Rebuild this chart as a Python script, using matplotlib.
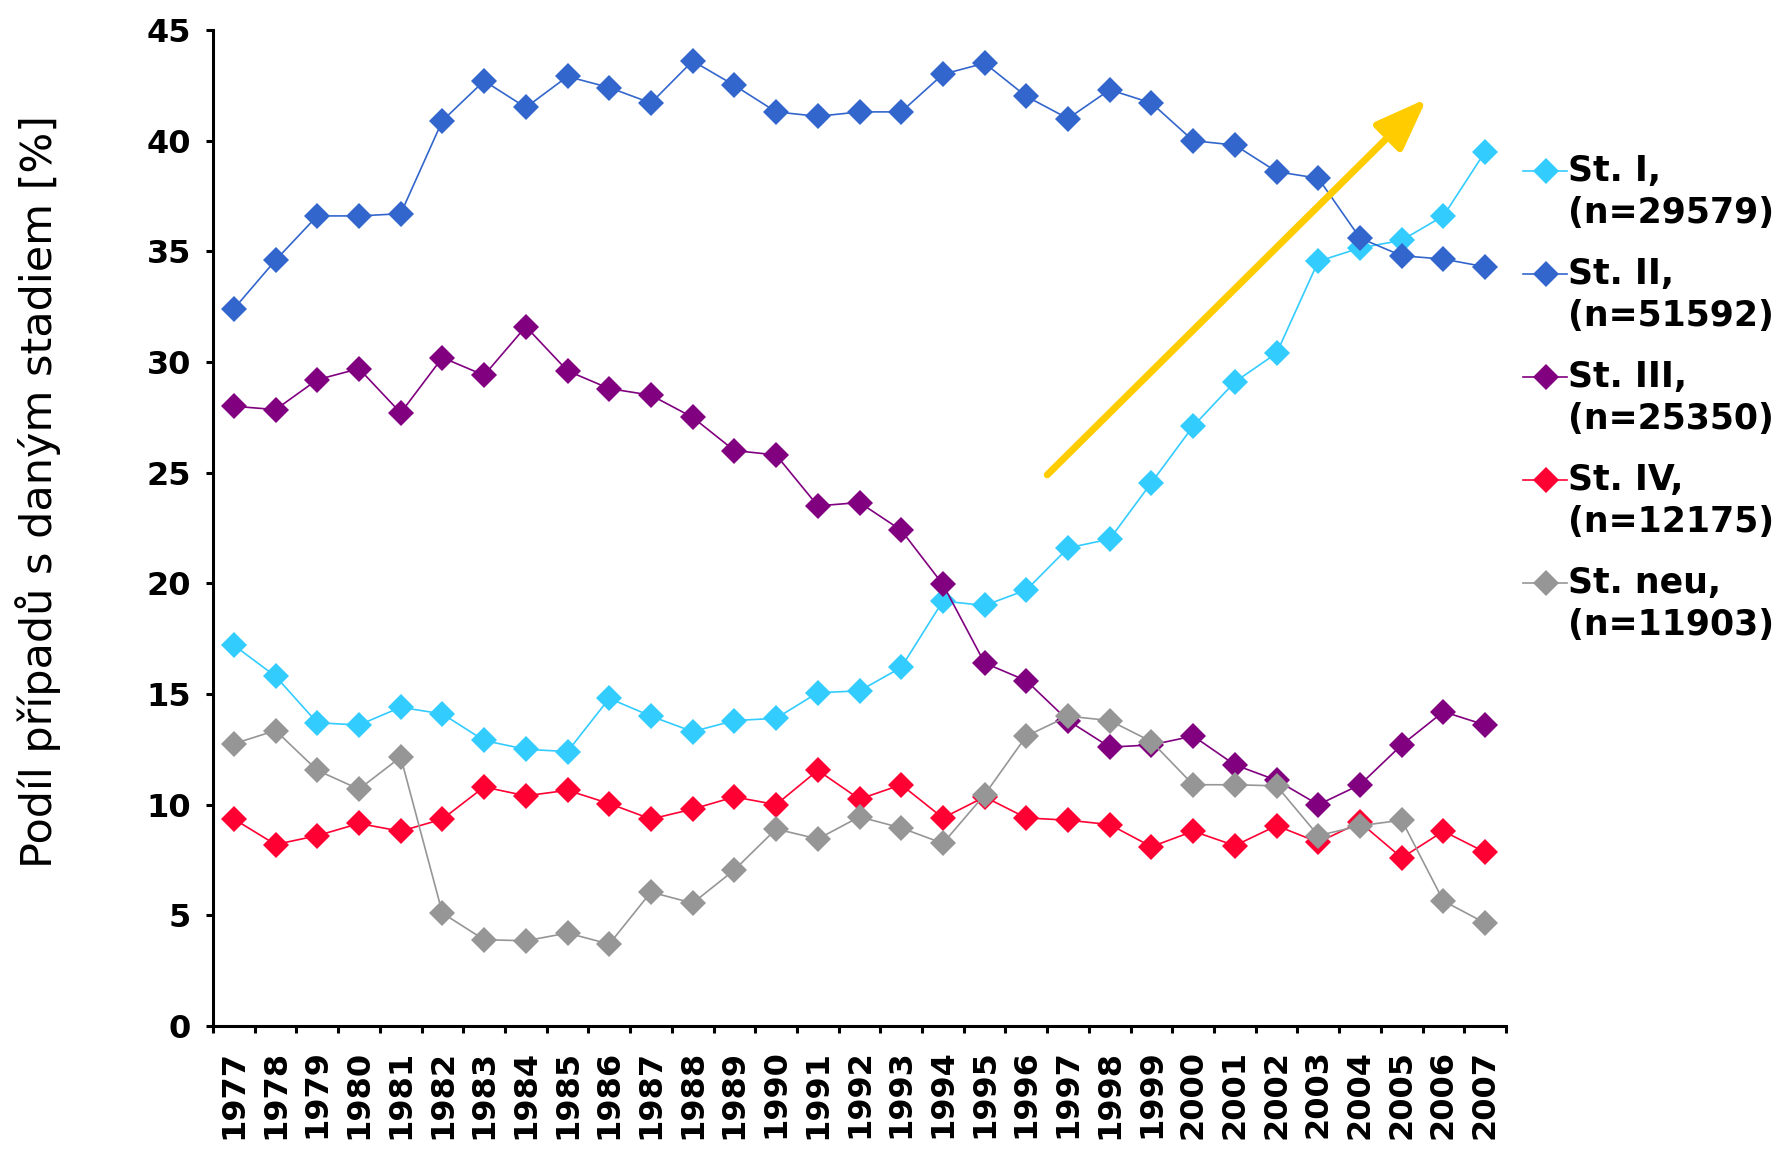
import matplotlib
matplotlib.use("Agg")
import matplotlib.pyplot as plt
from matplotlib.lines import Line2D
from matplotlib.ticker import FixedLocator

years = list(range(1977, 2008))

st_i = [17.2, 15.8, 13.7, 13.6, 14.4, 14.1, 12.9, 12.5, 12.4, 14.8, 14.0, 13.3, 13.8, 13.9,
        15.06, 15.14, 16.2, 19.2, 19.0, 19.7, 21.6, 22.0, 24.55, 27.1, 29.1, 30.4, 34.55, 35.15,
        35.5, 36.6, 39.5]
st_ii = [32.4, 34.6, 36.6, 36.6, 36.7, 40.9, 42.7, 41.5, 42.9, 42.4, 41.7, 43.6, 42.5, 41.3,
         41.1, 41.3, 41.3, 43.0, 43.5, 42.0, 41.0, 42.3, 41.7, 40.0, 39.8, 38.6, 38.3, 35.6,
         34.8, 34.65, 34.3]
st_iii = [28.0, 27.85, 29.2, 29.7, 27.7, 30.2, 29.4, 31.6, 29.6, 28.8, 28.5, 27.5, 26.0, 25.8,
          23.5, 23.65, 22.4, 19.95, 16.4, 15.6, 13.8, 12.6, 12.7, 13.1, 11.8, 11.1, 10.0, 10.9,
          12.7, 14.2, 13.6]
st_iv = [9.35, 8.2, 8.6, 9.15, 8.8, 9.35, 10.8, 10.4, 10.65, 10.05, 9.35, 9.8, 10.35, 10.0,
         11.55, 10.25, 10.9, 9.4, 10.35, 9.4, 9.3, 9.1, 8.1, 8.8, 8.15, 9.05, 8.3, 9.2, 7.6,
         8.8, 7.85]
st_neu = [12.75, 13.35, 11.55, 10.7, 12.15, 5.1, 3.9, 3.85, 4.2, 3.7, 6.05, 5.55, 7.05, 8.9,
          8.45, 9.45, 8.95, 8.25, 10.45, 13.1, 14.0, 13.8, 12.85, 10.9, 10.9, 10.85, 8.6, 9.05,
          9.3, 5.65, 4.65]

names = ["St. I,", "St. II,", "St. III,", "St. IV,", "St. neu,"]
counts = ["(n=29579)", "(n=51592)", "(n=25350)", "(n=12175)", "(n=11903)"]
colors = ["#33CCFF", "#3366CC", "#800080", "#FF0033", "#969696"]

# trend arrow (year, percent)
arrow_start = (1996.5, 24.9)
arrow_end = (2005.6, 41.9)

W, H = 1785, 1152
fig = plt.figure(figsize=(W / 100, H / 100), dpi=100)
ax = fig.add_axes([213 / W, 1 - 1026 / H, (1506 - 213) / W, (1026 - 30) / H])

series = [st_i, st_ii, st_iii, st_iv, st_neu]
for values, color in zip(series, colors):
    ax.plot(years, values, color=color, lw=1.2, marker="D", markersize=13,
            markeredgewidth=0, zorder=3)

ax.annotate("", xy=arrow_end, xytext=arrow_start,
            arrowprops=dict(arrowstyle="-|>,head_length=0.8,head_width=0.3",
                            color="#FFCC00", lw=5, mutation_scale=40, shrinkA=0, shrinkB=0),
            zorder=4)

ax.set_xlim(years[0] - 0.5, years[-1] + 0.5)
ax.set_ylim(0, 45)
ax.set_yticks(range(0, 50, 5))
ax.set_xticks(years)
ax.set_xticklabels([str(y) for y in years], rotation=90)
ax.xaxis.set_minor_locator(FixedLocator([y - 0.5 for y in years] + [years[-1] + 0.5]))

for side in ["top", "right"]:
    ax.spines[side].set_visible(False)
for side in ["left", "bottom"]:
    ax.spines[side].set_linewidth(2.2)

ax.tick_params(axis="x", which="major", length=0, pad=17, labelsize=23)
ax.tick_params(axis="x", which="minor", length=5, width=2.2, direction="out")
ax.tick_params(axis="y", length=5, width=2.2, direction="out", pad=11, labelsize=23)
for lab in ax.get_xticklabels() + ax.get_yticklabels():
    lab.set_fontweight("bold")

fig.text(38 / W, 1 - 491 / H, "Podíl případů s daným stadiem [%]", rotation=90,
         ha="center", va="center", fontsize=31)

# legend drawn by hand so the marker sits on the first text line, as in the original
for i, (name, count, color) in enumerate(zip(names, counts, colors)):
    y = 1 - (171 + i * 103) / H
    fig.add_artist(Line2D([1523 / W, 1567 / W], [y, y], color=color, lw=1.2))
    fig.add_artist(Line2D([1546 / W], [y], color=color, marker="D", markersize=13,
                          markeredgewidth=0))
    fig.text(1568 / W, y, name, ha="left", va="center", fontsize=25, fontweight="bold")
    fig.text(1568 / W, y - 42 / H, count, ha="left", va="center", fontsize=25,
             fontweight="bold")

fig.savefig("out.png", dpi=100)
